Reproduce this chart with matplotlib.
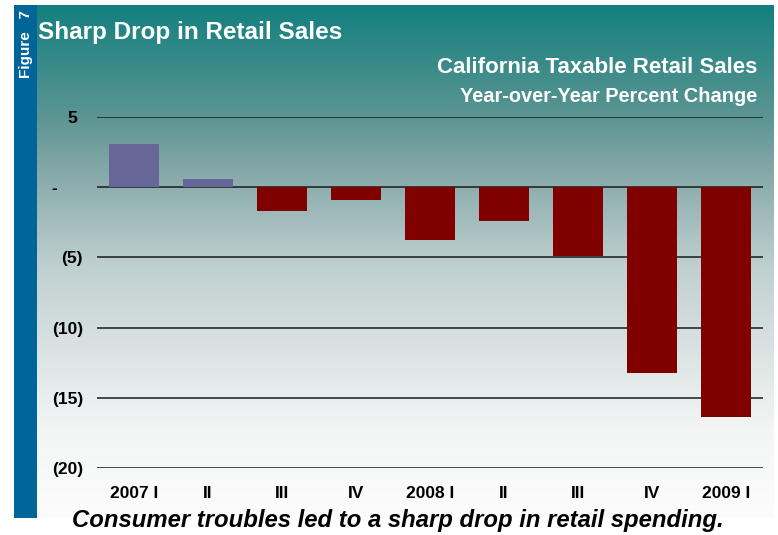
import matplotlib.pyplot as plt
import numpy as np
from matplotlib.patches import Rectangle
from matplotlib.transforms import ScaledTranslation

plt.rcParams['font.family'] = ['Liberation Sans', 'DejaVu Sans']

# 数据：加州应税零售额同比变化（%）
quarters = ['2007 I', 'II', 'III', 'IV', '2008 I', 'II', 'III', 'IV', '2009 I']
pct_change = [3.1, 0.6, -1.7, -0.9, -3.75, -2.4, -4.9, -13.2, -16.4]
y_ticks = [-20, -15, -10, -5, 0, 5]
y_labels = ['(20)', '(15)', '(10)', '(5)', '-', '5']

W, H = 778, 535
fig = plt.figure(figsize=(W / 100, H / 100), dpi=100)
fig.patch.set_facecolor('white')


def fx(px):
    return px / W


def fy(py):
    return 1 - py / H


# 背景渐变（青色 -> 白色）
bg_top, bg_bot = 5, 518
bg = fig.add_axes([fx(37), fy(bg_bot), fx(774 - 37), (bg_bot - bg_top) / H])
rows = np.linspace(bg_top, bg_bot, 300)
stops_y = [5, 117, 170, 265, 430, 518]
r = np.interp(rows, stops_y, [19, 92, 132, 191, 243, 252])
g = np.interp(rows, stops_y, [128, 149, 168, 207, 245, 252])
b = np.interp(rows, stops_y, [127, 147, 168, 207, 245, 252])
grad = np.stack([r, g, b], axis=1)[:, None, :] / 255.0
bg.imshow(grad, aspect='auto', extent=[0, 1, 0, 1], origin='upper')
bg.set_axis_off()

# 左侧蓝色竖条
fig.patches.append(Rectangle((fx(14), fy(bg_bot)), fx(37 - 14), (bg_bot - bg_top) / H,
                             transform=fig.transFigure, facecolor='#00669a',
                             edgecolor='none', zorder=1))
fig.text(fx(26), fy(10), 'Figure   7', rotation=90, ha='center', va='top',
         color='white', fontsize=11, fontweight='bold')

# 标题
fig.text(fx(38), fy(39), 'Sharp Drop in Retail Sales', ha='left', va='baseline',
         color='white', fontsize=17.5, fontweight='bold')
fig.text(fx(757), fy(73), 'California Taxable Retail Sales', ha='right', va='baseline',
         color='white', fontsize=16, fontweight='bold')
fig.text(fx(757), fy(102), 'Year-over-Year Percent Change', ha='right', va='baseline',
         color='white', fontsize=14.4, fontweight='bold')

# 主图
ax = fig.add_axes([fx(97), fy(468), fx(763 - 97), (468 - 117) / H])
ax.patch.set_alpha(0)
x = np.arange(len(quarters))
colors = ['#676699' if v >= 0 else '#800000' for v in pct_change]
ax.bar(x, pct_change, width=0.676, color=colors, zorder=3)

ax.set_xlim(-0.5, len(quarters) - 0.5)
ax.set_ylim(-20, 5)
ax.set_yticks(y_ticks)
ax.set_yticklabels(y_labels, fontsize=12.5, fontweight='bold')
ax.set_xticks(x)
ax.set_xticklabels(quarters, fontsize=12.5, fontweight='bold')
ax.tick_params(axis='both', length=0)
ax.tick_params(axis='y', pad=10)
ax.tick_params(axis='x', pad=13)
ax.yaxis.grid(True, color='#1a1a1a', linewidth=1.1, zorder=1)
ax.set_axisbelow(True)
for s in ax.spines.values():
    s.set_visible(False)

# 会计格式：正数和“-”右侧留空
offsets = {'-': -26, '5': -6}
for lbl, txt in zip(ax.get_yticklabels(), y_labels):
    if txt in offsets:
        lbl.set_transform(lbl.get_transform() +
                          ScaledTranslation(offsets[txt] / 100, 0, fig.dpi_scale_trans))

# 底部说明
fig.text(fx(398), fy(527), 'Consumer troubles led to a sharp drop in retail spending.',
         ha='center', va='baseline', color='black', fontsize=17.2,
         fontweight='bold', fontstyle='italic')

fig.savefig('out.png', dpi=100, facecolor='white')
